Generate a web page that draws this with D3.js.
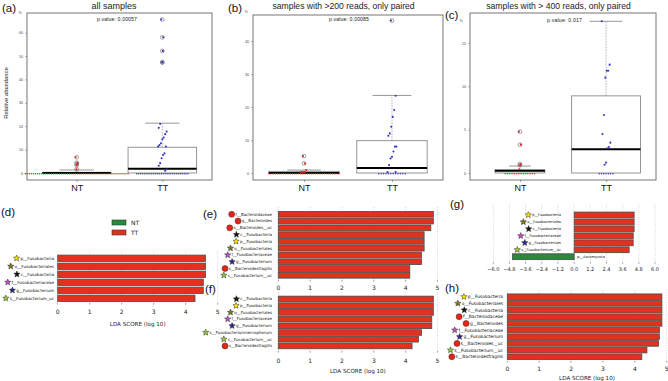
<!DOCTYPE html>
<html><head><meta charset="utf-8">
<script src="https://cdn.jsdelivr.net/npm/d3@7"></script>
<style>body{margin:0;background:#fff} svg{display:block}</style>
</head><body>
<script>
// ================= DATA =================
const groups = ["NT", "TT"];
const titles = ["all samples", "samples with >200 reads, only paired", "samples with > 400 reads, only paired"];
const pvalues = ["p.value: 0.00057", "p.value: 0.00085", "p.value: 0.017"];
const aTicks = [0, 10, 20, 30, 40, 50, 60];
const bTicks = [0, 10, 20, 30, 40];
const cTicks = [0, 5, 10, 15];
// box stats: [q1, median, q3, upper whisker]
const aNTstats = [0, 0, 0.3, 1.3];
const aTTstats = [0, 1.8, 11, 21.3];
const bNTstats = [0, 0, 0.5, 0.9];
const bTTstats = [0, 1.5, 9.8, 23.5];
const cNTstats = [0, 0.25, 0.35, 0.8];
const cTTstats = [0, 2.75, 8.9, 17.5];
// non-zero sample values
const aNTpoints = [6.7, 4.4, 3.9, 3.3, 1.6];
const aTTpoints = [65.6, 58, 52.2, 47.3, 47.3, 21, 19.3, 17.7, 16.6, 15.2, 14.4, 12.7, 11.9, 11.3, 11.3, 8.4, 7.7, 6.3, 4.2, 3.1, 1.6, 1.0];
const bNTpoints = [5.1, 2.9, 0.9, 0.3, 0.3, 0.3, 0.3];
const bTTpoints = [46.2, 23.4, 19.1, 17, 14, 12, 11.3, 8, 8, 6.5, 4.9, 4.4, 2.4, 0.3, 0.3];
const cNTpoints = [4.77, 3.27, 1.04, 0.89, 0.43];
const cTTpoints = [17.5, 12.5, 11.8, 11.8, 11, 6.7, 4.5, 3.5, 3.0, 2.85, 1.2, 0.96];
// number of samples at exactly zero [NT, TT]
const aZeroCounts = [52, 28];
const bZeroCounts = [34, 12];
const cZeroCounts = [14, 7];

// LDA panels
const ldaTicks = [0, 1, 2, 3, 4, 5];
const gTicks = [-6.0, -4.8, -3.6, -2.4, -1.2, 0.0, 1.2, 2.4, 3.6, 4.8, 6.0];
const legendLabels = ["NT", "TT"];
const dTaxa = ["p__Fusobacteria", "o__Fusobacteriales", "c__Fusobacteria", "f__Fusobacteriaceae", "g__Fusobacterium", "s__Fusobacterium_uc"];
const dScores = [4.62, 4.62, 4.62, 4.55, 4.55, 4.29];
const eTaxa = ["f__Bacteroidaceae", "g__Bacteroides", "s__Bacteroides__uc", "c__Fusobacteria", "p__Fusobacteria", "o__Fusobacteriales", "f__Fusobacteriaceae", "g__Fusobacterium", "s__Bacteroidesfragilis", "s__Fusobacterium__uc"];
const eScores = [4.87, 4.87, 4.79, 4.58, 4.58, 4.58, 4.5, 4.5, 4.13, 4.13];
const fTaxa = ["c__Fusobacteria", "p__Fusobacteria", "o__Fusobacteriales", "f__Fusobacteriaceae", "g__Fusobacterium", "s__Fusobacteriumnecrophorum", "s__Fusobacterium__uc", "s__Bacteroidesfragilis"];
const fScores = [4.87, 4.87, 4.87, 4.82, 4.82, 4.5, 4.4, 4.2];
const gTaxa = ["p__Fusobacteria", "o__Fusobacteriales", "c__Fusobacteria", "f__Fusobacteriaceae", "g__Fusobacterium", "s__Fusobacterium__uc", "p__Ascomycota"];
const gScores = [4.45, 4.45, 4.45, 4.38, 4.38, 4.08, -4.57];
const hTaxa = ["p__Fusobacteria", "o__Fusobacteriales", "c__Fusobacteria", "f__Bacteroidaceae", "g__Bacteroides", "f__Fusobacteriaceae", "g__Fusobacterium", "s__Bacteroides__uc", "s__Fusobacterium__uc", "s__Bacteroidesfragilis"];
const hScores = [4.85, 4.85, 4.85, 4.85, 4.85, 4.77, 4.77, 4.74, 4.38, 4.22];

// ================= DRAW =================
const SANS = "'Liberation Sans', Arial, sans-serif";
const DJV = "'DejaVu Sans', sans-serif";
const svg = d3.select("body").append("svg").attr("width", 668).attr("height", 381)
  .style("font-family", SANS);

const PT_COL = ["#d42a2a", "#3434c4"];
const BAR_RED = "#e0321f", BAR_GREEN = "#2a8a3c";
const iconColor = { p: "#f4e400", o: "#7e7a1c", c: "#141414", f: "#c050c0", g: "#2c2c88", s: "#94c83c" };

function jit(i) { return ((i * 37) % 13) / 12 - 0.5; }

function panelLabel(txt, x, y) {
  svg.append("text").attr("x", x).attr("y", y).attr("font-size", 11.5).attr("fill", "#111").text(txt);
}

function boxPanel(p) {
  const g = svg.append("g");
  const xs = d3.scaleLinear().domain([0.42, 2.58]).range([p.left, p.right]);
  const ys = d3.scaleLinear().domain(p.yDomain).range([p.bottom, p.top]);
  const unit = xs(2) - xs(1);

  g.append("text").attr("x", p.titleX).attr("y", 8.5).attr("text-anchor", "middle")
    .attr("font-size", p.titleSize).attr("fill", "#222").text(p.title);
  g.append("text").attr("x", p.pX).attr("y", p.pY).attr("text-anchor", "middle")
    .attr("font-size", 5.2).attr("fill", "#222").attr("textLength", p.pLen).text(p.pval);

  const ya = g.append("g").attr("transform", `translate(${p.left},0)`)
    .call(d3.axisLeft(ys).tickValues(p.ticks).tickSize(2).tickPadding(2));
  ya.select(".domain").remove();
  ya.attr("font-family", null).attr("font-size", null);
  ya.selectAll("text").attr("font-size", 3.6).attr("fill", "#444");
  ya.selectAll("line").attr("stroke", "#777").attr("stroke-width", 0.5);
  g.append("text").attr("x", p.pctX).attr("y", p.pctY).attr("font-size", 3.6).attr("fill", "#444")
    .attr("text-anchor", "middle").text("%");

  const xa = g.append("g").attr("transform", `translate(0,${p.bottom})`)
    .call(d3.axisBottom(xs).tickValues([1, 2]).tickFormat((d, i) => groups[i]).tickSize(2).tickPadding(2.4));
  xa.select(".domain").remove();
  xa.attr("font-family", null).attr("font-size", null);
  xa.selectAll("text").attr("font-size", 9).attr("fill", "#111");
  xa.selectAll("line").attr("stroke", "#666").attr("stroke-width", 0.6);

  g.append("rect").attr("x", p.left).attr("y", p.top).attr("width", p.right - p.left)
    .attr("height", p.bottom - p.top).attr("fill", "none").attr("stroke", "#666").attr("stroke-width", 0.9);

  p.stats.forEach((s, gi) => {
    const cx = xs(gi + 1);
    const hw = p.boxW[gi] * unit / 2, cw = p.capW[gi] * unit / 2;
    g.append("line").attr("x1", cx).attr("x2", cx).attr("y1", ys(s[2])).attr("y2", ys(s[3]))
      .attr("stroke", "#8080a0").attr("stroke-width", 0.6).attr("stroke-dasharray", "1.6,1.2");
    g.append("line").attr("x1", cx - cw).attr("x2", cx + cw).attr("y1", ys(s[3])).attr("y2", ys(s[3]))
      .attr("stroke", "#999").attr("stroke-width", 1);
    g.append("rect").attr("x", cx - hw).attr("width", 2 * hw).attr("y", ys(s[2]))
      .attr("height", Math.max(0.5, ys(s[0]) - ys(s[2]))).attr("fill", "#fff").attr("stroke", "#8a8a8a").attr("stroke-width", 0.9);
    g.append("line").attr("x1", cx - hw).attr("x2", cx + hw).attr("y1", ys(s[1])).attr("y2", ys(s[1]))
      .attr("stroke", "#000").attr("stroke-width", 2);

    const pts = p.points[gi];
    // outlier rings (R boxplot style, at the group centre)
    pts.filter(v => v > s[3] + 1e-9).forEach(v => {
      g.append("circle").attr("cx", cx).attr("cy", ys(v)).attr("r", 1.9)
        .attr("fill", "none").attr("stroke", "#666").attr("stroke-width", 0.6);
    });
    const n0 = p.zeros[gi], zs = p.zeroSpread[gi] * unit;
    for (let k = 0; k < n0; k++) {
      const xx = cx - zs + (n0 > 1 ? 2 * zs * k / (n0 - 1) : zs);
      g.append("circle").attr("cx", xx).attr("cy", ys(0) + 0.7).attr("r", 0.75).attr("fill", PT_COL[gi]);
    }
    pts.forEach((v, i) => {
      const out = v > s[3] + 1e-9;
      const jx = jit(i) * p.jitW * unit * (out ? 0.25 : 1);
      g.append("circle").attr("cx", cx + jx).attr("cy", ys(v)).attr("r", 1.05)
        .attr("fill", PT_COL[gi]);
    });
  });
}

boxPanel({ left: 27, right: 212, top: 13, bottom: 180, yDomain: [-3.0, 68.4], ticks: aTicks,
  stats: [aNTstats, aTTstats], points: [aNTpoints, aTTpoints], zeros: aZeroCounts,
  zeroSpread: [0.6, 0.3], boxW: [0.8, 0.8], capW: [0.4, 0.4], jitW: 0.1,
  title: titles[0], titleX: 114, titleSize: 9, pval: pvalues[0], pX: 117, pY: 21, pLen: 40,
  pctX: 20, pctY: 13.5 });
boxPanel({ left: 253, right: 443, top: 15, bottom: 180, yDomain: [-2.12, 47.88], ticks: bTicks,
  stats: [bNTstats, bTTstats], points: [bNTpoints, bTTpoints], zeros: bZeroCounts,
  zeroSpread: [0.4, 0.15], boxW: [0.8, 0.8], capW: [0.38, 0.44], jitW: 0.1,
  title: titles[1], titleX: 343.5, titleSize: 8.6, pval: pvalues[1], pX: 349, pY: 21, pLen: 40,
  pctX: 246, pctY: 12.5 });
boxPanel({ left: 470, right: 656, top: 13, bottom: 180, yDomain: [-0.808, 18.46], ticks: cTicks,
  stats: [cNTstats, cTTstats], points: [cNTpoints, cTTpoints], zeros: cZeroCounts,
  zeroSpread: [0.17, 0.08], boxW: [0.58, 0.8], capW: [0.25, 0.38], jitW: 0.1,
  title: titles[2], titleX: 558.5, titleSize: 8.6, pval: pvalues[2], pX: 564.5, pY: 22, pLen: 35,
  pctX: 461, pctY: 21.5 });

svg.append("text").attr("transform", "translate(8,93) rotate(-90)").attr("text-anchor", "middle")
  .attr("font-size", 5.8).attr("fill", "#222").text("Relative abundance");

panelLabel("(a)", 2, 12);
panelLabel("(b)", 228, 12);
panelLabel("(c)", 445, 19);
panelLabel("(d)", 1, 216);
panelLabel("(e)", 203, 218);
panelLabel("(f)", 205, 293);
panelLabel("(g)", 450, 208);
panelLabel("(h)", 445, 292);

// ------------- LDA panels -------------
function starPath(cx, cy, R) {
  const r = R * 0.45; let d = "";
  for (let k = 0; k < 10; k++) {
    const a = -Math.PI / 2 + k * Math.PI / 5, rr = k % 2 ? r : R;
    d += (k ? "L" : "M") + (cx + rr * Math.cos(a)).toFixed(2) + "," + (cy + rr * Math.sin(a)).toFixed(2);
  }
  return d + "Z";
}

function drawIcon(g, name, cx, cy) {
  if (name.indexOf("Ascomycota") >= 0) return;
  if (name.indexOf("Bacteroid") >= 0) {
    g.append("circle").attr("cx", cx).attr("cy", cy).attr("r", 3).attr("fill", "#e0261a")
      .attr("stroke", "#5a1a10").attr("stroke-width", 0.5);
  } else {
    g.append("path").attr("d", starPath(cx, cy, 3.3)).attr("fill", iconColor[name[0]])
      .attr("stroke", "#222").attr("stroke-width", 0.45);
  }
}

function ldaPanel(p) {
  const g = svg.append("g").style("font-family", DJV);
  const xs = d3.scaleLinear().domain(p.domain).range(p.xRange);
  const ys = d3.scaleBand().domain(p.taxa).range(p.yRange).paddingInner(p.pad).paddingOuter(p.pad / 2);
  p.ticks.forEach(t => {
    g.append("line").attr("x1", xs(t)).attr("x2", xs(t)).attr("y1", p.gridTop).attr("y2", p.gridBot)
      .attr("stroke", "#9a9a9a").attr("stroke-width", 0.5).attr("stroke-dasharray", "0.8,1.6");
    g.append("line").attr("x1", xs(t)).attr("x2", xs(t)).attr("y1", p.gridBot).attr("y2", p.gridBot + 1.6)
      .attr("stroke", "#333").attr("stroke-width", 0.5);
  });
  p.taxa.forEach((t, i) => {
    const v = p.scores[i];
    g.append("rect").attr("x", xs(Math.min(0, v))).attr("width", Math.abs(xs(v) - xs(0)))
      .attr("y", ys(t)).attr("height", ys.bandwidth())
      .attr("fill", v >= 0 ? BAR_RED : BAR_GREEN).attr("stroke", "#4a4a4a").attr("stroke-width", 0.8);
    const cy = ys(t) + ys.bandwidth() / 2;
    if (v >= 0) {
      const tx = g.append("text").attr("x", p.labelRight).attr("y", cy).attr("dy", "0.35em")
        .attr("text-anchor", "end").attr("font-size", p.fs).attr("fill", "#111").text(t);
      const w = tx.node().getComputedTextLength();
      drawIcon(g, t, p.labelRight - w - 3.8, cy);
    } else {
      g.append("text").attr("x", xs(0) + 3).attr("y", cy).attr("dy", "0.35em")
        .attr("font-size", p.fs).attr("fill", "#111").text(t);
    }
  });
  p.ticks.forEach(t => {
    g.append("text").attr("x", xs(t)).attr("y", p.tickY).attr("text-anchor", "middle")
      .attr("font-size", p.tickFs).attr("fill", "#222").text(p.fmt ? p.fmt(t) : t);
  });
  if (p.axisY) {
    g.append("text").attr("x", (p.xRange[0] + p.xRange[1]) / 2).attr("y", p.axisY).attr("text-anchor", "middle")
      .attr("font-size", 5.6).attr("fill", "#222").text("LDA SCORE (log 10)");
  }
}

ldaPanel({ taxa: dTaxa, scores: dScores, domain: [0, 5], xRange: [57.7, 217.7], yRange: [254.3, 302.3], pad: 0.2,
  ticks: ldaTicks, gridTop: 251, gridBot: 303, labelRight: 54, fs: 4.2, tickY: 314, tickFs: 6, axisY: 325.5 });
ldaPanel({ taxa: eTaxa, scores: eScores, domain: [0, 5], xRange: [278.3, 437.5], yRange: [210.9, 278.7], pad: 0.16,
  ticks: ldaTicks, gridTop: 207, gridBot: 280, labelRight: 272, fs: 4.0, tickY: 290, tickFs: 6 });
ldaPanel({ taxa: fTaxa, scores: fScores, domain: [0, 5], xRange: [278.3, 437.5], yRange: [295.6, 349.3], pad: 0.16,
  ticks: ldaTicks, gridTop: 292, gridBot: 351, labelRight: 272, fs: 4.0, tickY: 362.5, tickFs: 6, axisY: 372.5 });
ldaPanel({ taxa: gTaxa, scores: gScores, domain: [-6, 6], xRange: [493.3, 655], yRange: [211.5, 260.2], pad: 0.16,
  ticks: gTicks, gridTop: 205, gridBot: 262, labelRight: 561, fs: 3.6, tickY: 271, tickFs: 5,
  fmt: t => d3.format(".1f")(t).replace("-", "\u2212") });
ldaPanel({ taxa: hTaxa, scores: hScores, domain: [0, 5], xRange: [507.3, 666.7], yRange: [293.4, 360.1], pad: 0.16,
  ticks: ldaTicks, gridTop: 290, gridBot: 361, labelRight: 503, fs: 4.4, tickY: 370.5, tickFs: 6, axisY: 379.5 });

const lg = svg.append("g").style("font-family", DJV);
const legY = d3.scalePoint().domain(legendLabels).range([222.5, 232.5]);
legendLabels.forEach((l, i) => {
  lg.append("rect").attr("x", 112).attr("y", legY(l) - 2.5).attr("width", 14).attr("height", 5)
    .attr("fill", i === 0 ? BAR_GREEN : BAR_RED).attr("stroke", "#333").attr("stroke-width", 0.6);
  lg.append("text").attr("x", 131).attr("y", legY(l)).attr("dy", "0.35em").attr("font-size", 6)
    .attr("fill", "#111").text(l);
});
</script>
</body></html>
